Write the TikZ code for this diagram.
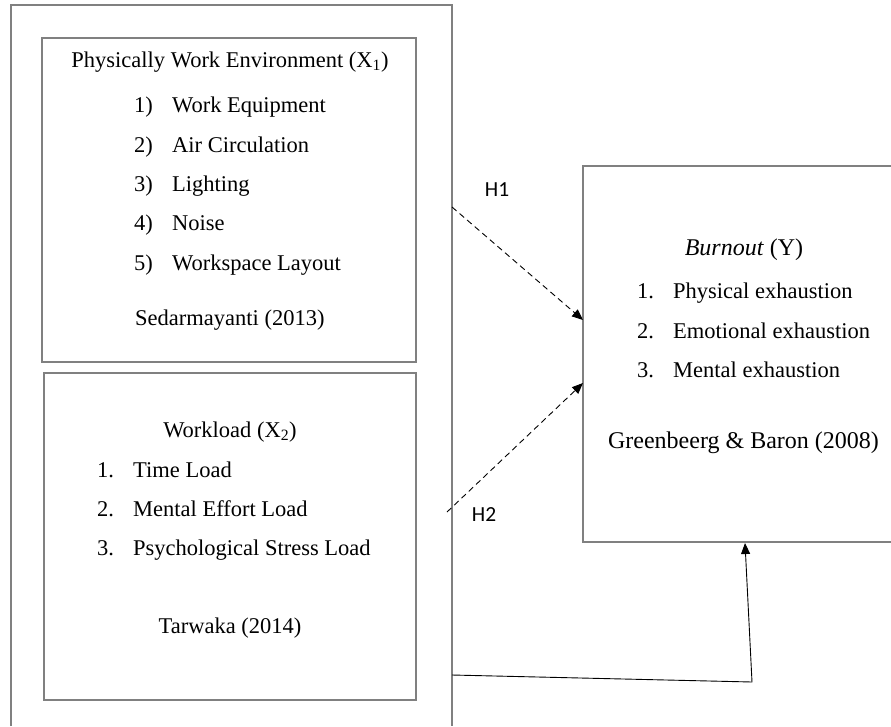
\documentclass[tikz,border=0pt]{standalone}
\usepackage{fontspec}
\setmainfont{Liberation Serif}
\newfontfamily\hfont{Carlito}
\usetikzlibrary{arrows.meta}
\definecolor{boxgray}{RGB}{128,128,128}
\begin{document}
\begin{tikzpicture}[x=1pt,y=-1pt,
 boxline/.style={draw=boxgray, line width=1.6pt},
 txt/.style={inner sep=0pt, font=\fontsize{22.5}{27}\selectfont, text height=16pt, text depth=5pt},
 bigtxt/.style={txt, font=\fontsize{24}{28}\selectfont},
 hlab/.style={inner sep=0pt, font=\hfont\fontsize{21.5}{24}\selectfont},
 conn/.style={draw=black, line width=0.9pt, -{Triangle[length=11pt,width=9pt]}},
 dconn/.style={conn, dash pattern=on 6pt off 4pt},
]
\useasboundingbox (0,0) rectangle (891,726);
\fill[white] (0,0) rectangle (891,726);
% boxes
\draw[boxline] (11,726) -- (11,5) -- (452,5) -- (452,726);
\draw[boxline] (42,38) rectangle (416,362);
\draw[boxline] (44,373) rectangle (416,700);
\draw[boxline] (891,166) -- (583,166) -- (583,542) -- (891,542);
% box 1 texts
\node[txt] (t1) at (230,62) {Physically Work Environment (X\textsubscript{1})};
\node[txt,anchor=west] (n11) at (134,107) {1)};
\node[txt,anchor=west] (i11) at (172,107) {Work Equipment};
\node[txt,anchor=west] (n12) at (134,147) {2)};
\node[txt,anchor=west] (i12) at (172,147) {Air Circulation};
\node[txt,anchor=west] (n13) at (134,186) {3)};
\node[txt,anchor=west] (i13) at (172,186) {Lighting};
\node[txt,anchor=west] (n14) at (134,225) {4)};
\node[txt,anchor=west] (i14) at (172,225) {Noise};
\node[txt,anchor=west] (n15) at (134,265) {5)};
\node[txt,anchor=west] (i15) at (172,265) {Workspace Layout};
\node[txt,anchor=west] (s1) at (135,320) {Sedarmayanti (2013)};
% box 2 texts
\node[txt] (t2) at (230,432) {Workload (X\textsubscript{2})};
\node[txt,anchor=west] (n21) at (97,472) {1.};
\node[txt,anchor=west] (i21) at (133,472) {Time Load};
\node[txt,anchor=west] (n22) at (97,511) {2.};
\node[txt,anchor=west] (i22) at (133,511) {Mental Effort Load};
\node[txt,anchor=west] (n23) at (97,550) {3.};
\node[txt,anchor=west] (i23) at (133,550) {Psychological Stress Load};
\node[txt] (s2) at (230,628) {Tarwaka (2014)};
% burnout box texts
\node[bigtxt] (ty) at (744,250) {\textit{Burnout} (Y)};
\node[txt,anchor=west] (n31) at (637,293) {1.};
\node[txt,anchor=west] (i31) at (673,293) {Physical exhaustion};
\node[txt,anchor=west] (n32) at (637,333) {2.};
\node[txt,anchor=west] (i32) at (673,333) {Emotional exhaustion};
\node[txt,anchor=west] (n33) at (637,372) {3.};
\node[txt,anchor=west] (i33) at (673,372) {Mental exhaustion};
\node[bigtxt] (sy) at (743.5,443) {Greenbeerg \& Baron (2008)};
% hypothesis labels
\node[hlab] (H1) at (497,190) {H1};
\node[hlab] (H2) at (484,515) {H2};
% connectors
\coordinate (h1s) at (452,207);
\coordinate (h1e) at (583,320);
\coordinate (h2s) at (447,512);
\coordinate (h2e) at (583,383);
\coordinate (ls) at (452,675);
\coordinate (lc) at (752,682);
\coordinate (le) at (745,543);
\draw[dconn] (h1s) -- (h1e);
\draw[dconn] (h2s) -- (h2e);
\draw[conn] (ls) -- (lc) -- (le);
\end{tikzpicture}
\end{document}
